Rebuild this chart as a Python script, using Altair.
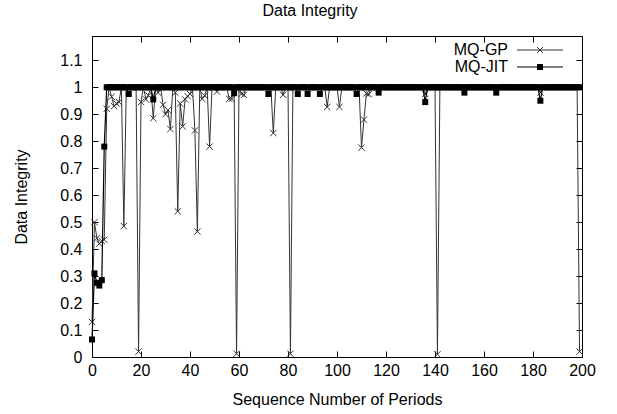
import altair as alt
import pandas as pd

# ---- data ----
periods = list(range(200))

mq_gp = [
    0.13, 0.50, 0.44, 0.42, 0.43, 0.435, 0.92, 1.0, 0.965, 0.93,
    0.94, 0.945, 1.0, 0.485, 1.0, 1.0, 1.0, 1.0, 1.0, 0.02,
    0.945, 1.0, 0.955, 0.97, 1.0, 0.885, 1.0, 0.98, 1.0, 0.935,
    0.90, 0.915, 0.845, 1.0, 0.98, 0.54, 0.94, 0.855, 0.955, 0.967,
    0.975, 1.0, 0.84, 0.465, 1.0, 0.957, 0.969, 1.0, 0.78, 1.0,
    1.0, 0.984, 1.0, 1.0, 1.0, 1.0, 0.957, 0.957, 1.0, 0.012,
    1.0, 0.975, 0.972, 1.0, 1.0, 1.0, 1.0, 1.0, 1.0, 1.0,
    1.0, 1.0, 1.0, 1.0, 0.83, 1.0, 1.0, 1.0, 0.972, 1.0,
    1.0, 0.012, 1.0, 1.0, 1.0, 1.0, 1.0, 1.0, 1.0, 1.0,
    1.0, 1.0, 1.0, 1.0, 1.0, 1.0, 0.927, 1.0, 1.0, 1.0,
    1.0, 0.927, 1.0, 1.0, 1.0, 1.0, 1.0, 1.0, 1.0, 1.0,
    0.776, 0.88, 0.977, 0.974, 1.0, 1.0, 1.0, 1.0, 1.0, 1.0,
    1.0, 1.0, 1.0, 1.0, 1.0, 1.0, 1.0, 1.0, 1.0, 1.0,
    1.0, 1.0, 1.0, 1.0, 1.0, 1.0, 0.975, 1.0, 1.0, 1.0,
    1.0, 0.01, 1.0, 1.0, 1.0, 1.0, 1.0, 1.0, 1.0, 1.0,
    1.0, 1.0, 1.0, 1.0, 1.0, 1.0, 1.0, 1.0, 1.0, 1.0,
    1.0, 1.0, 1.0, 1.0, 1.0, 1.0, 1.0, 1.0, 1.0, 1.0,
    1.0, 1.0, 1.0, 1.0, 1.0, 1.0, 1.0, 1.0, 1.0, 1.0,
    1.0, 1.0, 1.0, 0.98, 1.0, 1.0, 1.0, 1.0, 1.0, 1.0,
    1.0, 1.0, 1.0, 1.0, 1.0, 1.0, 1.0, 1.0, 1.0, 0.02,
]

mq_jit = [
    0.065, 0.31, 0.275, 0.265, 0.285, 0.78, 1.0, 1.0, 1.0, 1.0,
    1.0, 1.0, 1.0, 1.0, 1.0, 0.975, 1.0, 1.0, 1.0, 1.0,
    1.0, 1.0, 1.0, 1.0, 1.0, 0.955, 1.0, 1.0, 1.0, 1.0,
    1.0, 1.0, 1.0, 1.0, 1.0, 1.0, 1.0, 1.0, 1.0, 1.0,
    1.0, 1.0, 1.0, 1.0, 1.0, 1.0, 1.0, 1.0, 1.0, 1.0,
    1.0, 1.0, 1.0, 1.0, 1.0, 1.0, 1.0, 1.0, 0.978, 1.0,
    1.0, 1.0, 1.0, 1.0, 1.0, 1.0, 1.0, 1.0, 1.0, 1.0,
    1.0, 1.0, 0.975, 1.0, 1.0, 1.0, 1.0, 1.0, 1.0, 1.0,
    1.0, 1.0, 1.0, 1.0, 0.975, 1.0, 1.0, 1.0, 0.975, 1.0,
    1.0, 1.0, 1.0, 0.975, 1.0, 1.0, 1.0, 1.0, 1.0, 1.0,
    1.0, 1.0, 1.0, 1.0, 1.0, 1.0, 1.0, 1.0, 0.975, 1.0,
    1.0, 1.0, 1.0, 1.0, 1.0, 1.0, 1.0, 0.98, 1.0, 1.0,
    1.0, 1.0, 1.0, 1.0, 1.0, 1.0, 1.0, 1.0, 1.0, 1.0,
    1.0, 1.0, 1.0, 1.0, 1.0, 1.0, 0.945, 1.0, 1.0, 1.0,
    1.0, 1.0, 1.0, 1.0, 1.0, 1.0, 1.0, 1.0, 1.0, 1.0,
    1.0, 1.0, 0.98, 1.0, 1.0, 1.0, 1.0, 1.0, 1.0, 1.0,
    1.0, 1.0, 1.0, 1.0, 1.0, 0.98, 1.0, 1.0, 1.0, 1.0,
    1.0, 1.0, 1.0, 1.0, 1.0, 1.0, 1.0, 1.0, 1.0, 1.0,
    1.0, 1.0, 1.0, 0.95, 1.0, 1.0, 1.0, 1.0, 1.0, 1.0,
    1.0, 1.0, 1.0, 1.0, 1.0, 1.0, 1.0, 1.0, 1.0, 1.0,
]

series_names = ["MQ-GP", "MQ-JIT"]
x_ticks = list(range(0, 201, 20))
y_ticks = [0, 0.1, 0.2, 0.3, 0.4, 0.5, 0.6, 0.7, 0.8, 0.9, 1, 1.1]

df_gp = pd.DataFrame({"period": periods, "value": mq_gp})
df_jit = pd.DataFrame({"period": periods, "value": mq_jit})

FONT = "Liberation Sans"
FS = 16
TICK = 6
CROSS = "M-1,-1L1,1M-1,1L1,-1"
GP_COLOR = "#333333"

txt = dict(labelFont=FONT, labelFontSize=FS, labelFontWeight="normal", labelColor="black",
           titleFont=FONT, titleFontSize=FS, titleFontWeight="normal", titleColor="black",
           tickColor="black", tickWidth=1)

xscale = alt.Scale(domain=[0, 200], nice=False, zero=False)
yscale = alt.Scale(domain=[0, 1.19], nice=False)

x_axis = alt.Axis(values=x_ticks, orient="bottom", offset=-TICK, tickSize=TICK,
                  domain=False, grid=False, labelPadding=5, labelFlush=False,
                  title="Sequence Number of Periods", titlePadding=13, **txt)
y_axis = alt.Axis(values=y_ticks, orient="left", offset=-TICK, tickSize=TICK,
                  domain=False, grid=False, labelPadding=10, format=".1~f",
                  title="Data Integrity", titlePadding=30, **txt)

X_ax = alt.X("period:Q", scale=xscale, axis=x_axis)
Y_ax = alt.Y("value:Q", scale=yscale, axis=y_axis)
X = alt.X("period:Q", scale=xscale, axis=None)
Y = alt.Y("value:Q", scale=yscale, axis=None)

gp_line = alt.Chart(df_gp).mark_line(color=GP_COLOR, strokeWidth=1).encode(x=X_ax, y=Y_ax)
gp_pts = alt.Chart(df_gp).mark_point(shape=CROSS, size=40, filled=False,
                                     stroke=GP_COLOR, strokeWidth=1, opacity=1).encode(x=X, y=Y)
jit_line = alt.Chart(df_jit).mark_line(color="black", strokeWidth=1.2).encode(x=X, y=Y)
jit_pts = alt.Chart(df_jit).mark_square(size=36, color="black", opacity=1).encode(x=X, y=Y)

# mirrored inward ticks on top and right
mirror = alt.Chart(df_gp).mark_point(opacity=0).encode(
    x=alt.X("period:Q", scale=xscale,
            axis=alt.Axis(values=x_ticks, orient="top", offset=-TICK, tickSize=TICK,
                          domain=False, grid=False, labels=False, title=None,
                          tickColor="black")),
    y=alt.Y("value:Q", scale=yscale,
            axis=alt.Axis(values=y_ticks, orient="right", offset=-TICK, tickSize=TICK,
                          domain=False, grid=False, labels=False, title=None,
                          tickColor="black")),
)

# legend (gnuplot style: text, then line sample with marker)
leg_gp = pd.DataFrame({"name": [series_names[0]]})
leg_jit = pd.DataFrame({"name": [series_names[1]]})
LX_TEXT, LX0, LX1, LXM = 416, 425, 471, 448
LY0, LY1 = 14, 31
legend_layers = [
    alt.Chart(leg_gp).mark_text(align="right", baseline="middle", font=FONT, fontSize=FS,
                                color="black").encode(text="name:N", x=alt.value(LX_TEXT), y=alt.value(LY0)),
    alt.Chart(leg_gp).mark_rule(color=GP_COLOR, strokeWidth=1).encode(
        x=alt.value(LX0), x2=alt.value(LX1), y=alt.value(LY0)),
    alt.Chart(leg_gp).mark_point(shape=CROSS, size=36, filled=False, stroke=GP_COLOR,
                                 strokeWidth=1, opacity=1).encode(x=alt.value(LXM), y=alt.value(LY0)),
    alt.Chart(leg_jit).mark_text(align="right", baseline="middle", font=FONT, fontSize=FS,
                                 color="black").encode(text="name:N", x=alt.value(LX_TEXT), y=alt.value(LY1)),
    alt.Chart(leg_jit).mark_rule(color="black", strokeWidth=1.2).encode(
        x=alt.value(LX0), x2=alt.value(LX1), y=alt.value(LY1)),
    alt.Chart(leg_jit).mark_square(size=36, color="black", opacity=1).encode(
        x=alt.value(LXM), y=alt.value(LY1)),
]

chart = alt.layer(
    gp_line, gp_pts, jit_line, jit_pts, mirror, *legend_layers
).resolve_axis(x="independent", y="independent").properties(
    width=490, height=321,
    padding={"left": 92, "top": 36, "right": 35, "bottom": 57},
    autosize=alt.AutoSizeParams(type="none"),
    background="white",
    title=alt.Title("Data Integrity", font=FONT, fontSize=FS, fontWeight="normal",
                    color="black", dx=-27, offset=17),
).configure_view(stroke="black", strokeWidth=1)

chart.save("out.html", embed_options={"renderer": "svg", "actions": False})
